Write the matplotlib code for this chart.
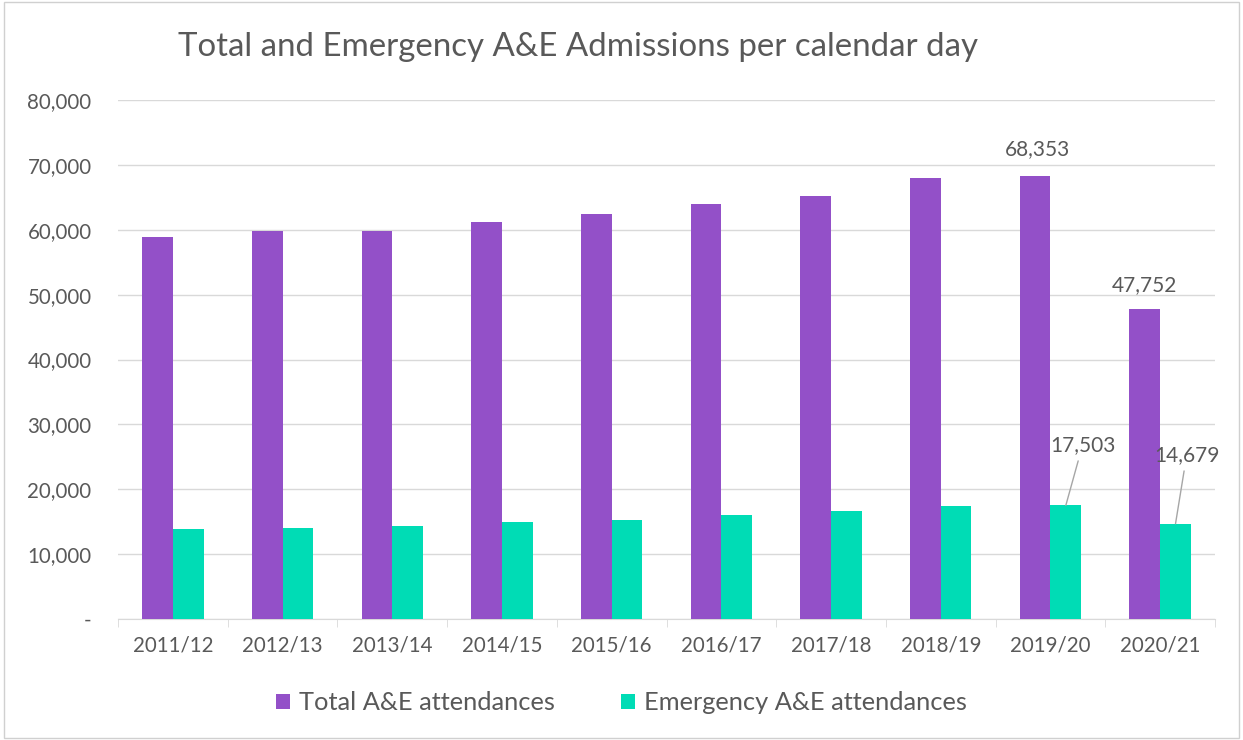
import numpy as np
import matplotlib
matplotlib.use("Agg")
import matplotlib.pyplot as plt
from matplotlib.ticker import FuncFormatter, FixedLocator
from matplotlib.patches import Rectangle

plt.rcParams['font.family'] = ['Lato', 'DejaVu Sans']

years = ["2011/12", "2012/13", "2013/14", "2014/15", "2015/16",
         "2016/17", "2017/18", "2018/19", "2019/20", "2020/21"]
total_ae = [58900, 59800, 59800, 61200, 62500, 64000, 65200, 67900, 68353, 47752]
emergency_ae = [13800, 14100, 14400, 15000, 15300, 16000, 16600, 17450, 17503, 14679]

PURPLE = "#9350c8"
TEAL = "#00dcb5"
GREY_TXT = "#595959"
GRID = "#d9d9d9"

fig = plt.figure(figsize=(12.43, 7.40), dpi=100)
ax = fig.add_axes([118 / 1243, 1 - 619 / 740, (1215 - 118) / 1243, (619 - 100) / 740])

x = np.arange(len(years))
w = 0.28
ax.bar(x - w / 2, total_ae, w, color=PURPLE, label="Total A&E attendances", zorder=3)
ax.bar(x + w / 2, emergency_ae, w, color=TEAL, label="Emergency A&E attendances", zorder=3)

ax.set_xlim(-0.5, len(years) - 0.5)
ax.set_ylim(0, 80000)
ax.set_yticks(np.arange(0, 80001, 10000))
ax.yaxis.set_major_formatter(FuncFormatter(lambda v, p: "-" if v == 0 else f"{int(v):,}"))
ax.grid(axis="y", color=GRID, lw=1, zorder=0)
ax.set_axisbelow(True)

ax.set_xticks(x)
ax.set_xticklabels(years)
ax.xaxis.set_minor_locator(FixedLocator(np.arange(-0.5, len(years), 1)))
ax.tick_params(axis="x", which="major", length=0, pad=12, labelsize=14.8, labelcolor=GREY_TXT)
ax.tick_params(axis="x", which="minor", length=6, color=GRID)
ax.tick_params(axis="y", length=0, pad=19, labelsize=14.8, labelcolor=GREY_TXT)

for s in ["left", "right", "top"]:
    ax.spines[s].set_visible(False)
ax.spines["bottom"].set_color(GRID)

# data labels
lab = dict(textcoords="offset points", ha="center", va="bottom", fontsize=15, color=GREY_TXT)
ax.annotate(f"{total_ae[8]:,}", xy=(x[8] - w / 2, total_ae[8]), xytext=(2, 12), **lab)
ax.annotate(f"{total_ae[9]:,}", xy=(x[9] - w / 2, total_ae[9]), xytext=(0, 10), **lab)
ax.annotate(f"{emergency_ae[8]:,}", xy=(x[8] + w / 2, emergency_ae[8]), xytext=(12, 36),
            arrowprops=dict(arrowstyle="-", color="#a6a6a6", lw=1, shrinkA=2, shrinkB=0), **lab)
ax.annotate(f"{emergency_ae[9]:,}", xy=(x[9] + w / 2, emergency_ae[9]), xytext=(8, 42),
            arrowprops=dict(arrowstyle="-", color="#a6a6a6", lw=1, shrinkA=2, shrinkB=0), **lab)

fig.text(178 / 1243, 1 - 47 / 740, "Total and Emergency A&E Admissions per calendar day",
         ha="left", va="center", fontsize=23.8, color=GREY_TXT)

fig.legend(loc="center", bbox_to_anchor=(0.5, 1 - 703 / 740), ncol=2, frameon=False,
           fontsize=18.3, labelcolor=GREY_TXT, handlelength=0.55, handleheight=0.55,
           handletextpad=0.35, columnspacing=2.6)

fig.patches.append(Rectangle((0.003, 0.003), 0.994, 0.994, transform=fig.transFigure,
                             fill=False, edgecolor="#d0d0d0", lw=1))

fig.savefig("out.png", dpi=100)
